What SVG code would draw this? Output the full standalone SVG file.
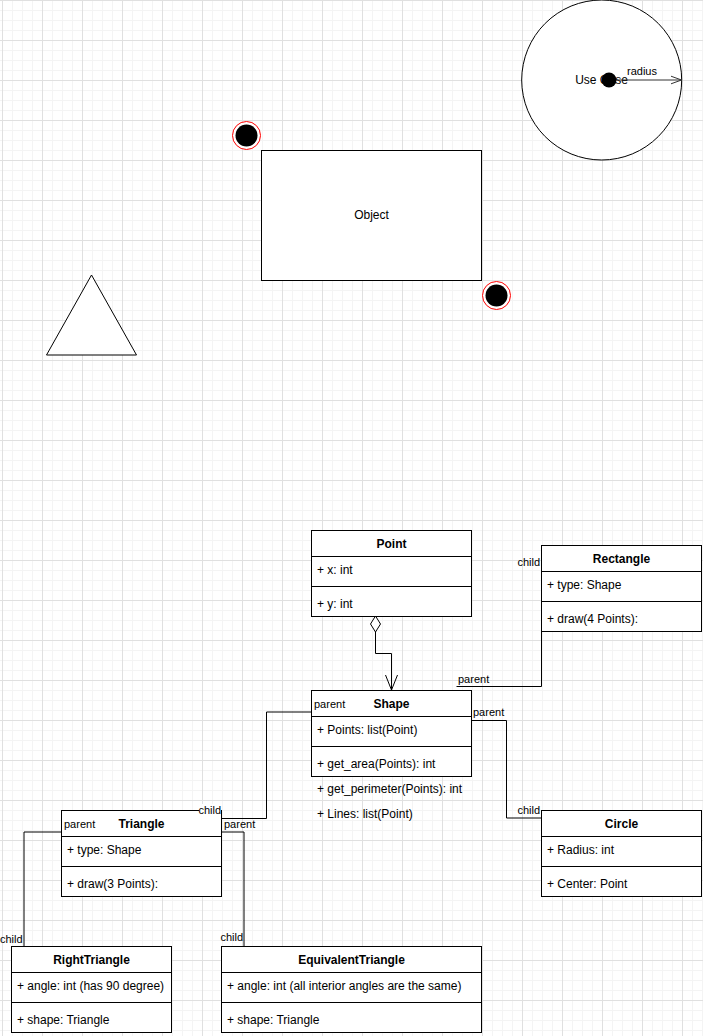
<svg xmlns="http://www.w3.org/2000/svg" width="703" height="1036" viewBox="0 0 703 1036">
<defs>
<pattern id="grid" x="2" y="0" width="40" height="40" patternUnits="userSpaceOnUse">
<path d="M10.5 0V40M20.5 0V40M30.5 0V40M0 10.5H40M0 20.5H40M0 30.5H40" stroke="#f4f4f4" stroke-width="1" fill="none"/>
<path d="M0.5 0V40M0 0.5H40" stroke="#e0e0e0" stroke-width="1" fill="none"/>
</pattern>
<marker id="openArrow" viewBox="0 0 12 10" refX="11" refY="5" markerWidth="12" markerHeight="10" markerUnits="userSpaceOnUse" orient="auto">
<path d="M0 1 L11 5 L0 9" fill="none" stroke="#333" stroke-width="1"/>
</marker>
</defs>
<style>
text{font-family:"Liberation Sans",Arial,Helvetica,sans-serif;fill:#000}
.box{fill:#fff;stroke:#000;stroke-width:1}
.sep{stroke:#000;stroke-width:1;fill:none}
.hdr{font-size:12px;font-weight:bold;text-anchor:middle}
.attr{font-size:12px}
.lbl{font-size:11px}
.edge{fill:none;stroke:#000;stroke-width:1}
</style>
<rect x="0" y="0" width="703" height="1036" fill="#fff"/>
<rect x="0" y="0" width="703" height="1036" fill="url(#grid)"/>

<g id="usecase">
<circle cx="601.7" cy="80" r="80" class="box"/>
<text x="601.5" y="84" class="attr" text-anchor="middle">Use Case</text>
<path d="M609 80 H681.5" fill="none" stroke="#333" stroke-width="1" marker-end="url(#openArrow)"/>
<circle cx="609" cy="80" r="7.5" fill="#000"/>
<text x="627" y="75" class="lbl">radius</text>
</g>

<g id="dot1">
<circle cx="246.5" cy="135.5" r="14" fill="#fff" stroke="#f00" stroke-width="1"/>
<circle cx="246.5" cy="135.5" r="11" fill="#000"/>
</g>

<g id="object">
<rect x="261.5" y="150.5" width="220" height="130" class="box"/>
<text x="371.5" y="219" class="attr" text-anchor="middle">Object</text>
</g>

<g id="dot2">
<circle cx="496.5" cy="295.5" r="14" fill="#fff" stroke="#f00" stroke-width="1"/>
<circle cx="496.5" cy="295.5" r="11" fill="#000"/>
</g>

<g id="triangle-shape">
<polygon points="46.5,355 136.5,355 91.5,275" class="box"/>
</g>

<g id="connectors">
<path d="M375.5 632 V653.5 H391.5 V689.5" class="edge"/>
<path d="M385.5 675 L391.5 690 L397.5 675" class="edge"/>
<path d="M375.5 616 L380.5 624 L375.5 632 L370.5 624 Z" fill="#fff" stroke="#000" stroke-width="1"/>
<text x="382.5" y="611" class="lbl" text-anchor="middle">1</text>

<path d="M541.5 631 V686.5 H456.5" class="edge"/>
<text x="458" y="683" class="lbl">parent</text>
<text x="540" y="566" class="lbl" text-anchor="end">child</text>

<path d="M471.5 720.5 H506.5 V818 H541.5" class="edge"/>
<text x="473" y="716" class="lbl">parent</text>
<text x="540" y="814" class="lbl" text-anchor="end">child</text>

<path d="M311.5 712 H266.5 V818.5 H221.5" class="edge"/>
<text x="314" y="708" class="lbl">parent</text>

<path d="M61.5 832 H24 V946" class="edge"/>
<text x="64" y="828" class="lbl">parent</text>
<text x="0" y="943" class="lbl">child</text>

<path d="M221.5 832 H244 V946" class="edge"/>
<text x="224" y="828" class="lbl">parent</text>
<text x="243" y="941" class="lbl" text-anchor="end">child</text>
</g>

<g id="Point">
<rect x="311.5" y="530.5" width="160" height="86" class="box"/>
<path d="M311.5 556.5 H471.5 M311.5 586.5 H471.5" class="sep"/>
<text x="391.5" y="548" class="hdr">Point</text>
<text x="317" y="574" class="attr">+ x: int</text>
<text x="317" y="608" class="attr">+ y: int</text>
</g>

<g id="Rectangle">
<rect x="541.5" y="545.5" width="160" height="86" class="box"/>
<path d="M541.5 571.5 H701.5 M541.5 601.5 H701.5" class="sep"/>
<text x="621.5" y="563" class="hdr">Rectangle</text>
<text x="547" y="589" class="attr">+ type: Shape</text>
<text x="547" y="623" class="attr">+ draw(4 Points):</text>
</g>

<g id="Shape">
<rect x="311.5" y="690.5" width="160" height="86" class="box"/>
<path d="M311.5 716.5 H471.5 M311.5 746.5 H471.5" class="sep"/>
<text x="391.5" y="708" class="hdr">Shape</text>
<text x="317" y="734" class="attr">+ Points: list(Point)</text>
<text x="317" y="768" class="attr">+ get_area(Points): int</text>
<text x="317" y="793" class="attr">+ get_perimeter(Points): int</text>
<text x="317" y="818" class="attr">+ Lines: list(Point)</text>
<text x="314" y="708" class="lbl">parent</text>
</g>

<g id="Circle">
<rect x="541.5" y="810.5" width="160" height="86" class="box"/>
<path d="M541.5 836.5 H701.5 M541.5 866.5 H701.5" class="sep"/>
<text x="621.5" y="828" class="hdr">Circle</text>
<text x="547" y="854" class="attr">+ Radius: int</text>
<text x="547" y="888" class="attr">+ Center: Point</text>
</g>

<g id="Triangle">
<rect x="61.5" y="810.5" width="160" height="86" class="box"/>
<path d="M61.5 836.5 H221.5 M61.5 866.5 H221.5" class="sep"/>
<text x="141.5" y="828" class="hdr">Triangle</text>
<text x="67" y="854" class="attr">+ type: Shape</text>
<text x="67" y="888" class="attr">+ draw(3 Points):</text>
<text x="64" y="828" class="lbl">parent</text>
<rect x="199" y="804" width="22" height="10" fill="#fff"/>
<text x="221" y="814" class="lbl" text-anchor="end">child</text>
</g>

<g id="RightTriangle">
<rect x="11.5" y="946.5" width="160" height="86" class="box"/>
<path d="M11.5 972.5 H171.5 M11.5 1002.5 H171.5" class="sep"/>
<text x="91.5" y="964" class="hdr">RightTriangle</text>
<text x="17" y="990" class="attr">+ angle: int (has 90 degree)</text>
<text x="17" y="1024" class="attr">+ shape: Triangle</text>
</g>

<g id="EquivalentTriangle">
<rect x="221.5" y="946.5" width="260" height="86" class="box"/>
<path d="M221.5 972.5 H481.5 M221.5 1002.5 H481.5" class="sep"/>
<text x="351.5" y="964" class="hdr">EquivalentTriangle</text>
<text x="227" y="990" class="attr">+ angle: int (all interior angles are the same)</text>
<text x="227" y="1024" class="attr">+ shape: Triangle</text>
</g>
</svg>
